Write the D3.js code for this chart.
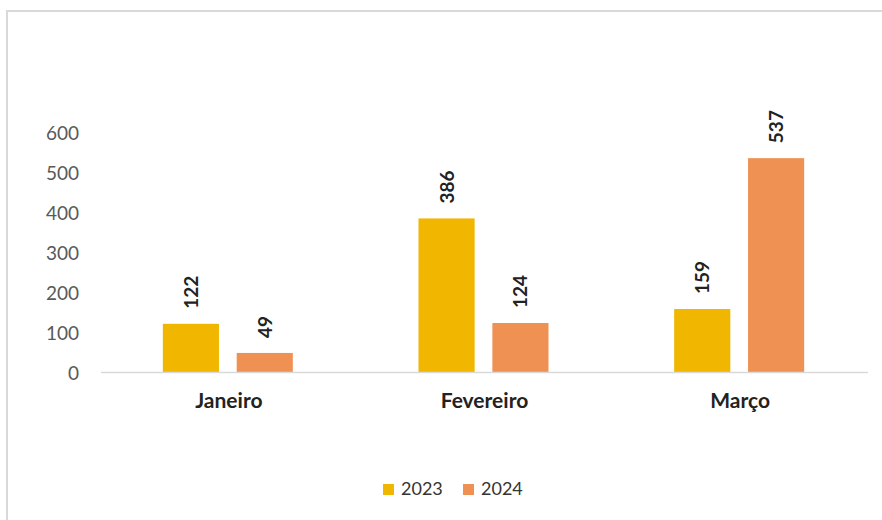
<!DOCTYPE html>
<html>
<head>
<meta charset="utf-8">
<script src="https://cdn.jsdelivr.net/npm/d3@7"></script>
<style>
  html, body { margin: 0; padding: 0; background: #fff; }
  svg { display: block; font-family: Lato, "Open Sans", sans-serif; }
</style>
</head>
<body>
<svg id="chart" width="882" height="520"></svg>
<script>
// Monthly totals, 2023 vs 2024
const months = ["Janeiro", "Fevereiro", "Março"];
const seriesNames = ["2023", "2024"];
const values2023 = [122, 386, 159];
const values2024 = [49, 124, 537];
const yTicks = [0, 100, 200, 300, 400, 500, 600];
const colors = ["#F1B700", "#F09154"];

const seriesValues = [values2023, values2024];

const svg = d3.select("#chart");

// outer frame (only top and left edges fall inside the view)
svg.append("rect")
  .attr("x", 7).attr("y", 11)
  .attr("width", 1000).attr("height", 1000)
  .attr("fill", "none")
  .attr("stroke", "#d9d9d9")
  .attr("stroke-width", 2);

const plot = { left: 101, right: 868, top: 133, bottom: 372.5 };

const x0 = d3.scaleBand()
  .domain(months)
  .range([plot.left, plot.right])
  .paddingInner(0)
  .paddingOuter(0);

const groupWidth = 130;
const x1 = d3.scaleBand()
  .domain(seriesNames)
  .range([0, groupWidth])
  .paddingInner(0.24);

const y = d3.scaleLinear()
  .domain([0, 600])
  .range([plot.bottom, plot.top]);

// y axis labels
const yAxis = d3.axisLeft(y).tickValues(yTicks).tickSize(0).tickPadding(0);
const yg = svg.append("g")
  .attr("transform", `translate(${79},0)`)
  .call(yAxis);
yg.select(".domain").remove();
yg.selectAll("text")
  .attr("font-size", 19)
  .attr("font-family", "Lato, sans-serif")
  .attr("fill", "#595959")
  .attr("dy", "0.35em");

// bars
const groups = svg.append("g").selectAll("g")
  .data(months)
  .join("g")
  .attr("transform", d => `translate(${x0(d) + (x0.bandwidth() - groupWidth) / 2 - 1},0)`);

groups.selectAll("rect")
  .data((m, i) => seriesNames.map((s, k) => ({ s, v: seriesValues[k][i], k })))
  .join("rect")
  .attr("x", d => x1(d.s))
  .attr("width", x1.bandwidth())
  .attr("y", d => y(d.v))
  .attr("height", d => y(0) - y(d.v))
  .attr("fill", d => colors[d.k]);

// value labels, rotated
groups.selectAll("text.val")
  .data((m, i) => seriesNames.map((s, k) => ({ s, v: seriesValues[k][i], k })))
  .join("text")
  .attr("class", "val")
  .attr("transform", d => `translate(${x1(d.s) + x1.bandwidth() / 2 + 7},${y(d.v) - 15}) rotate(-90)`)
  .attr("text-anchor", "start")
  .attr("font-size", 19)
  .attr("font-weight", "bold")
  .attr("fill", "#222")
  .text(d => d.v);

// baseline
svg.append("line")
  .attr("x1", plot.left).attr("x2", plot.right)
  .attr("y1", y(0)).attr("y2", y(0))
  .attr("stroke", "#d9d9d9")
  .attr("stroke-width", 1.5);

// category labels
const xAxis = d3.axisBottom(x0).tickSize(0).tickPadding(0);
const xg = svg.append("g")
  .attr("transform", `translate(0,${plot.bottom})`)
  .call(xAxis);
xg.select(".domain").remove();
xg.selectAll("text")
  .attr("y", 35)
  .attr("dy", 0)
  .attr("font-size", 21)
  .attr("font-weight", "bold")
  .attr("font-family", "Lato, sans-serif")
  .attr("fill", "#222");

// legend
const legendItems = [
  { name: seriesNames[0], color: colors[0], x: 383 },
  { name: seriesNames[1], color: colors[1], x: 463 }
];
const lg = svg.append("g");
legendItems.forEach(it => {
  lg.append("rect")
    .attr("x", it.x).attr("y", 484)
    .attr("width", 11).attr("height", 11)
    .attr("fill", it.color);
  lg.append("text")
    .attr("x", it.x + 18).attr("y", 495)
    .attr("font-size", 18)
    .attr("fill", "#333")
    .text(it.name);
});
</script>
</body>
</html>
